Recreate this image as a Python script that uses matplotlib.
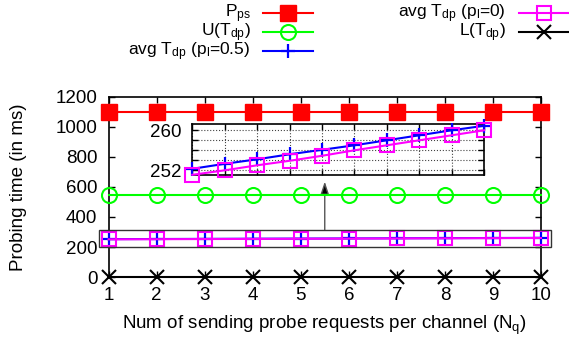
import matplotlib
matplotlib.use("Agg")
import matplotlib.pyplot as plt
from matplotlib.lines import Line2D
from matplotlib.patches import Rectangle
from matplotlib.ticker import FixedLocator

plt.rcParams['font.family'] = ['Liberation Sans', 'DejaVu Sans']
plt.rcParams['mathtext.fontset'] = 'custom'
plt.rcParams['mathtext.rm'] = 'Liberation Sans'
plt.rcParams['mathtext.it'] = 'Liberation Sans:italic'

# ---- data ----
n_q = [1, 2, 3, 4, 5, 6, 7, 8, 9, 10]
p_ps = [1100, 1100, 1100, 1100, 1100, 1100, 1100, 1100, 1100, 1100]
u_tdp = [550, 550, 550, 550, 550, 550, 550, 550, 550, 550]
avg_tdp_05 = [252.3, 253.3, 254.2, 255.2, 256.1, 257.0, 258.0, 259.0, 260.0, 260.9]
avg_tdp_0 = [251.1, 252.0, 253.0, 253.9, 254.9, 256.0, 257.0, 258.0, 259.0, 260.0]
l_tdp = [0, 0, 0, 0, 0, 0, 0, 0, 0, 0]

x_ticks = [1, 2, 3, 4, 5, 6, 7, 8, 9, 10]
y_ticks = [0, 200, 400, 600, 800, 1000, 1200]

labels = ['P$_{\\mathrm{ps}}$', 'U(T$_{\\mathrm{dp}}$)',
          'avg T$_{\\mathrm{dp}}$ (p$_{\\mathrm{l}}$=0.5)',
          'avg T$_{\\mathrm{dp}}$ (p$_{\\mathrm{l}}$=0)', 'L(T$_{\\mathrm{dp}}$)']

W, H = 569, 341
FS = 13.5
fig = plt.figure(figsize=(W / 100, H / 100), dpi=100)

def fx(px):
    return px / W

def fy(py):
    return 1 - py / H

styles = [
    dict(color='#ff0000', marker='s', ms=11.5, mfc='#ff0000', mec='#ff0000', mew=1.0),
    dict(color='#00ff00', marker='o', ms=10.8, mfc='none', mec='#00ff00', mew=1.5),
    dict(color='#0000ff', marker='+', ms=10, mec='#0000ff', mew=1.6),
    dict(color='#ff00ff', marker='s', ms=10.5, mfc='none', mec='#ff00ff', mew=1.5),
    dict(color='#000000', marker='x', ms=9.5, mec='#000000', mew=1.5),
]
series = [p_ps, u_tdp, avg_tdp_05, avg_tdp_0, l_tdp]

# ---- main axes ----
L, R, T, B = 108.5, 541, 97, 277
ax = fig.add_axes([fx(L), fy(B), fx(R) - fx(L), fy(T) - fy(B)])
for s, st in zip(series, styles):
    ax.plot(n_q, s, lw=1.5, clip_on=False, zorder=3, **st)

ax.set_xlim(1, 10)
ax.set_ylim(0, 1200)
ax.set_xticks(x_ticks)
ax.set_yticks(y_ticks)
ax.tick_params(direction='in', length=4, width=1, top=True, right=True,
               labelsize=FS)
ax.tick_params(axis='x', pad=7.5)
ax.tick_params(axis='y', pad=8)
for sp in ax.spines.values():
    sp.set_linewidth(1.2)
ax.set_xlabel('Num of sending probe requests per channel (N$_{\\mathrm{q}}$)',
              fontsize=FS, labelpad=7)
ax.set_ylabel('Probing time (in ms)', fontsize=FS)
ax.yaxis.set_label_coords(-(108.5 - 27) / (541 - 108.5), 0.5)

# zoom rectangle and arrow
rect = Rectangle((0.81, 197), 10.2 - 0.81, 315 - 197, fill=False,
                 edgecolor='#333333', lw=1.0, clip_on=False, zorder=4)
ax.add_patch(rect)
ax.annotate('', xy=(5.5, 636), xytext=(5.5, 315),
            arrowprops=dict(arrowstyle='-|>,head_length=0.75,head_width=0.25',
                            color='#555555', lw=1.0, mutation_scale=10,
                            shrinkA=0, shrinkB=0, fc='black', ec='#555555'),
            zorder=2)

# ---- inset ----
iL, iR, iT, iB = 192.3, 484, 124.3, 175.3
ai = fig.add_axes([fx(iL), fy(iB), fx(iR) - fx(iL), fy(iT) - fy(iB)])
ai.plot(n_q, avg_tdp_05, lw=1.5, clip_on=False, zorder=3, **styles[2])
ai.plot(n_q, avg_tdp_0, lw=1.5, clip_on=False, zorder=3, **styles[3])
ai.set_xlim(1, 10)
ai.set_ylim(251, 261.2)
ai.set_xticks(x_ticks)
ai.set_xticklabels([])
ai.set_yticks([252, 260])
ai.yaxis.set_minor_locator(FixedLocator([254, 256, 258]))
ai.tick_params(which='both', direction='in', length=4, width=1, top=True,
               right=True, labelsize=FS, pad=8)
ai.grid(which='both', linestyle=':', color='#444444', lw=0.8)
for sp in ai.spines.values():
    sp.set_linewidth(1.2)

# ---- legend (gnuplot style, right-aligned labels) ----
rows = [13, 32, 51]
cols = [(250.7, 262.7, 312.7), (506, 519, 569)]
pos = [(0, 0), (0, 1), (0, 2), (1, 0), (1, 1)]
for (c, r), st, lab in zip(pos, styles, labels):
    tx, x0, x1 = cols[c]
    y = rows[r]
    fig.add_artist(Line2D([fx(x0), fx(x1)], [fy(y), fy(y)], lw=1.5,
                          color=st['color'], transform=fig.transFigure))
    mk = dict(st)
    mk.pop('color')
    fig.add_artist(Line2D([fx((x0 + x1) / 2)], [fy(y)], linestyle='none',
                          transform=fig.transFigure, **mk))
    fig.text(fx(tx), fy(y + 4.5), lab, ha='right', va='baseline', fontsize=12.5)

fig.savefig('out.png', dpi=100)
